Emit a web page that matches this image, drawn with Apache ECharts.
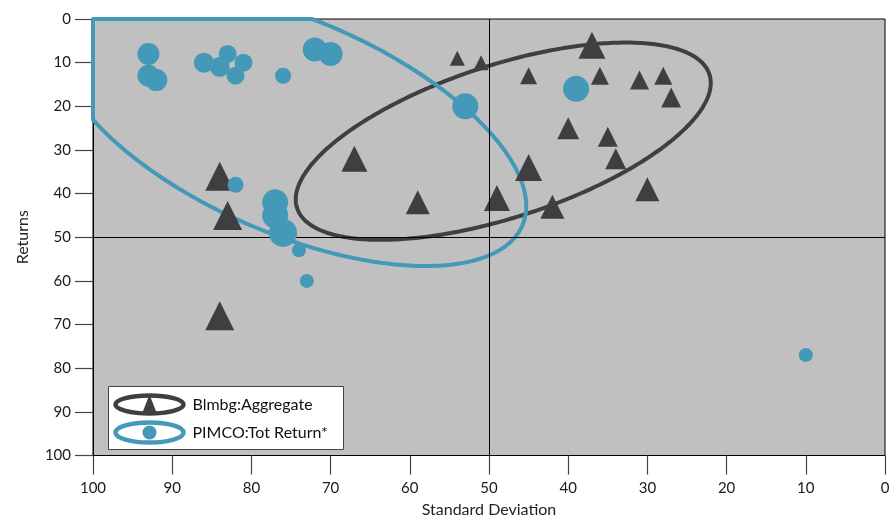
<!DOCTYPE html>
<html><head><meta charset="utf-8">
<script src="https://cdn.jsdelivr.net/npm/echarts@6/dist/echarts.min.js"></script>
<style>html,body{margin:0;padding:0;background:#fff}#c{width:894px;height:517px}</style>
</head><body><div id="c"></div>
<script>
const seriesNames = ['Blmbg:Aggregate', 'PIMCO:Tot Return*'];
const axisNames = ['Standard Deviation', 'Returns'];
// Blmbg:Aggregate (triangles)
const blmbgStdDev  = [54, 51, 37, 45, 36, 31, 28, 27, 40, 35, 34, 45, 30, 49, 42, 67, 59, 84, 83, 84];
const blmbgReturns = [ 9, 10,  6, 13, 13, 14, 13, 18, 25, 27, 32, 34, 39, 41, 43, 32, 42, 36, 45, 68];
const blmbgSizes   = [15, 15, 27, 17, 18, 19, 18, 20, 22, 20, 21, 27, 24, 26, 24, 26, 24, 29, 29, 29];
// PIMCO:Tot Return* (circles)
const pimcoStdDev  = [93, 93, 92, 86, 83, 84, 81, 82, 76, 72, 70, 82, 77, 77, 76, 74, 53, 39, 73, 10];
const pimcoReturns = [ 8, 13, 14, 10,  8, 11, 10, 13, 13,  7,  8, 38, 42, 45, 49, 53, 20, 16, 60, 77];
const pimcoSizes   = [22, 22, 22, 20, 18, 20, 18, 18, 16, 24, 24, 16, 26, 26, 28, 14, 26, 26, 14, 14];
// ellipses: [centre std dev, centre return, spread std dev, spread return, correlation]
const blmbgEllipse = [48.2, 28.0, 26.2, 22.6, 0.59];
const pimcoEllipse = [74.9, 24.6, 29.6, 32.0, -0.57];
const refLines = [50, 50];

const DARK = '#3f3f41', TEAL = '#4499b8';
const FONT = 'Lato';

function zip(xs, ys, ss) { return xs.map((x, i) => [x, ys[i], ss[i]]); }

function ellipseItem(params, api) {
  const cx = api.value(0), cy = api.value(1), sx = api.value(2), sy = api.value(3), r = api.value(4);
  const q = Math.sqrt(1 - r * r);
  const pts = [];
  const N = 360;
  for (let i = 0; i < N; i++) {
    const t = i / N * Math.PI * 2;
    let x = cx + sx * Math.cos(t);
    let y = cy + sy * (r * Math.cos(t) + q * Math.sin(t));
    x = Math.min(100, Math.max(0, x));
    y = Math.min(100, Math.max(0, y));
    pts.push(api.coord([x, y]));
  }
  return { type: 'polygon', shape: { points: pts },
    style: { fill: 'none', stroke: api.visual('color'), lineWidth: 4, lineJoin: 'round' } };
}

const chart = echarts.init(document.getElementById('c'), null, { renderer: 'canvas' });
chart.setOption({
  animation: false,
  backgroundColor: '#fff',
  grid: { left: 93, right: 9, top: 19, bottom: 61.5, containLabel: false, outerBoundsMode: 'none',
    show: true, backgroundColor: '#c0c0c0', borderColor: '#000', borderWidth: 1 },
  xAxis: {
    type: 'value', inverse: true, min: 0, max: 100, interval: 10,
    name: axisNames[0], nameLocation: 'middle', nameGap: 46,
    nameTextStyle: { fontFamily: FONT, fontSize: 16, color: '#222' },
    axisLine: { show: true, onZero: false, lineStyle: { color: '#000', width: 1 } },
    axisTick: { show: true, length: 19, lineStyle: { color: '#444', width: 1.2 } },
    axisLabel: { margin: 25, fontFamily: FONT, fontSize: 15, color: '#1a1a1a' },
    splitLine: { show: false }
  },
  yAxis: {
    type: 'value', inverse: true, min: 0, max: 100, interval: 10,
    name: axisNames[1], nameLocation: 'middle', nameGap: 62, nameRotate: 90,
    nameTextStyle: { fontFamily: FONT, fontSize: 16, color: '#222' },
    axisLine: { show: true, onZero: false, lineStyle: { color: '#000', width: 1 } },
    axisTick: { show: true, length: 18, lineStyle: { color: '#444', width: 1.2 } },
    axisLabel: { margin: 22, fontFamily: FONT, fontSize: 15, color: '#1a1a1a' },
    splitLine: { show: false }
  },
  series: [
    { type: 'line', data: [], z: 1, silent: true,
      markLine: { silent: true, symbol: 'none', label: { show: false },
        lineStyle: { color: '#000', width: 1, type: 'solid' },
        data: [{ xAxis: refLines[0] }, { yAxis: refLines[1] }] } },
    { type: 'custom', name: seriesNames[0] + ' ellipse', renderItem: ellipseItem, z: 2, silent: true,
      itemStyle: { color: DARK }, encode: { x: 0, y: 1 }, data: [blmbgEllipse] },
    { type: 'custom', name: seriesNames[1] + ' ellipse', renderItem: ellipseItem, z: 3, silent: true,
      itemStyle: { color: TEAL }, encode: { x: 0, y: 1 }, data: [pimcoEllipse] },
    { type: 'scatter', name: seriesNames[0], symbol: 'triangle', z: 4,
      symbolSize: v => v[2], itemStyle: { color: DARK, opacity: 1 },
      data: zip(blmbgStdDev, blmbgReturns, blmbgSizes) },
    { type: 'scatter', name: seriesNames[1], symbol: 'circle', z: 5,
      symbolSize: v => v[2], itemStyle: { color: TEAL, opacity: 1 },
      data: zip(pimcoStdDev, pimcoReturns, pimcoSizes) }
  ],
  graphic: [
    { type: 'group', left: 108, top: 386, z: 100, children: [
      { type: 'rect', shape: { x: 0, y: 0, width: 235, height: 63 },
        style: { fill: '#fff', stroke: '#444', lineWidth: 1 } },
      { type: 'ellipse', shape: { cx: 41, cy: 18, rx: 34, ry: 9 },
        style: { fill: 'none', stroke: DARK, lineWidth: 4.5 } },
      { type: 'polygon', shape: { points: [[41, 8], [34, 26], [48, 26]] }, style: { fill: DARK } },
      { type: 'text', style: { x: 84, y: 18, text: seriesNames[0], font: '16px ' + FONT, fill: '#111', textVerticalAlign: 'middle', verticalAlign: 'middle' } },
      { type: 'ellipse', shape: { cx: 41, cy: 46, rx: 34, ry: 10 },
        style: { fill: 'none', stroke: TEAL, lineWidth: 4.5 } },
      { type: 'circle', shape: { cx: 41, cy: 46, r: 7 }, style: { fill: TEAL } },
      { type: 'text', style: { x: 84, y: 46, text: seriesNames[1], font: '16px ' + FONT, fill: '#111', textVerticalAlign: 'middle', verticalAlign: 'middle' } }
    ] }
  ]
});
</script>
</body></html>
